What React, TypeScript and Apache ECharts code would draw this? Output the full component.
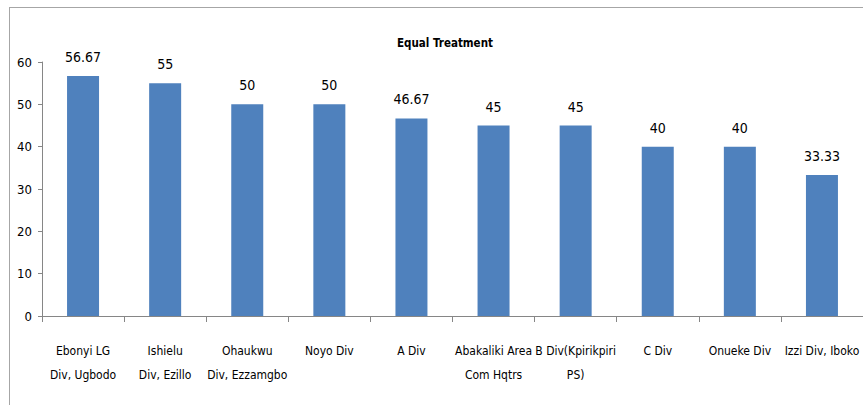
import React, { useEffect, useRef } from "react";
import * as echarts from "echarts";

const categories = [
  "Ebonyi LG\nDiv, Ugbodo",
  "Ishielu\nDiv, Ezillo",
  "Ohaukwu\nDiv, Ezzamgbo",
  "Noyo Div",
  "A Div",
  "Abakaliki Area\nCom Hqtrs",
  "B Div(Kpirikpiri\nPS)",
  "C Div",
  "Onueke Div",
  "Izzi Div, Iboko",
];
const values = [56.67, 55, 50, 50, 46.67, 45, 45, 40, 40, 33.33];
const valueLabels = ["56.67", "55", "50", "50", "46.67", "45", "45", "40", "40", "33.33"];
const chartTitle = "Equal Treatment";

const FONT = "'DejaVu Sans Condensed', 'Liberation Sans Narrow', 'Liberation Sans', sans-serif";

export default function App() {
  const ref = useRef<HTMLDivElement>(null);
  useEffect(() => {
    if (!ref.current) return;
    const chart = echarts.init(ref.current, null, { renderer: "svg" });
    chart.setOption({
      animation: false,
      backgroundColor: "#ffffff",
      title: {
        text: chartTitle,
        left: 440,
        textAlign: "center",
        top: 32,
        textStyle: { fontFamily: FONT, fontSize: 11.5, fontWeight: "bold", color: "#000000" },
      },
      grid: { left: 42, right: 0, top: 62, bottom: 89, containLabel: false },
      xAxis: {
        type: "category",
        data: categories,
        axisLine: { lineStyle: { color: "#868686", width: 1 } },
        axisTick: { show: true, length: 6, lineStyle: { color: "#868686" } },
        axisLabel: {
          interval: 0,
          margin: 23,
          fontFamily: FONT,
          fontSize: 12,
          lineHeight: 24,
          color: "#000000",
        },
      },
      yAxis: {
        type: "value",
        min: 0,
        max: 60,
        interval: 10,
        axisLine: { show: true, lineStyle: { color: "#868686", width: 1 } },
        axisTick: { show: true, length: 4, lineStyle: { color: "#868686" } },
        splitLine: { show: false },
        axisLabel: { margin: 10, fontFamily: FONT, fontSize: 13, color: "#000000" },
      },
      series: [
        {
          type: "bar",
          data: values,
          barWidth: 32,
          itemStyle: { color: "#4f81bd" },
          label: {
            show: true,
            position: "top",
            distance: 12,
            fontFamily: FONT,
            fontSize: 14,
            color: "#000000",
            formatter: (p: any) => valueLabels[p.dataIndex],
          },
        },
      ],
      graphic: [
        {
          type: "line",
          shape: { x1: 9, y1: 7.5, x2: 863, y2: 7.5 },
          style: { stroke: "#a6a6a6", lineWidth: 1 },
          silent: true,
        },
        {
          type: "line",
          shape: { x1: 9.5, y1: 7, x2: 9.5, y2: 405 },
          style: { stroke: "#a6a6a6", lineWidth: 1 },
          silent: true,
        },
      ],
    });
    return () => chart.dispose();
  }, []);
  return (
    <div
      ref={ref}
      style={{ position: "fixed", left: 0, top: 0, width: 863, height: 405 }}
    />
  );
}
